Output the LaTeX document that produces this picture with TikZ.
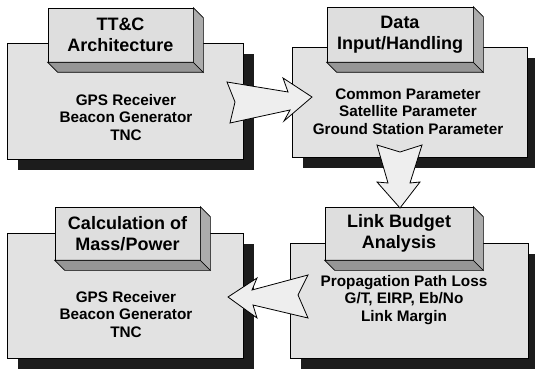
\documentclass[tikz,border=0pt]{standalone}
\usepackage{fontspec}
\setmainfont{Liberation Sans}
\usetikzlibrary{calc,shadows}
\definecolor{panelgray}{RGB}{226,226,226}
\definecolor{frontgray}{RGB}{222,222,222}
\definecolor{bottomgray}{RGB}{150,150,150}
\definecolor{sidegray}{RGB}{172,172,172}
\definecolor{shadowgray}{RGB}{28,28,28}
\definecolor{arrowfill}{RGB}{238,238,238}
\tikzset{
  panel/.style={draw=black, line width=0.6pt, fill=panelgray, inner sep=0pt,
    drop shadow={shadow xshift=11pt, shadow yshift=-11pt, opacity=1, fill=shadowgray}},
  titlefront/.style={draw=black, line width=0.6pt, fill=frontgray, inner sep=0pt,
    align=center, font=\fontsize{18}{21}\selectfont\bfseries},
  depthbottom/.style={draw=black, line width=0.6pt, fill=bottomgray},
  depthside/.style={draw=black, line width=0.6pt, fill=sidegray},
  bodytext/.style={align=center, inner sep=0pt, font=\fontsize{15.3}{17.5}\selectfont\bfseries},
  blockarrow/.style={draw=black, line width=0.8pt, fill=arrowfill, line join=miter}
}
% raised title plate: front face plus bottom and right depth faces
\newcommand\titleplate[4]{%
  \node[titlefront, minimum width=#2, minimum height=#3] (#1) at (#4) {};
  \filldraw[depthbottom] (#1.south west) -- (#1.south east) -- ($(#1.south east)+(10,10)$)
    -- ($(#1.south west)+(10,10)$) -- cycle;
  \filldraw[depthside] (#1.north east) -- ($(#1.north east)+(10,10)$)
    -- ($(#1.south east)+(10,10)$) -- (#1.south east) -- cycle;
}
\begin{document}
\begin{tikzpicture}[x=1pt, y=-1pt]
\useasboundingbox[fill=white] (0,0) rectangle (535,371);

% main panels
\node[panel, minimum width=236pt, minimum height=116pt] (b1) at (125,101) {};
\node[panel, minimum width=235pt, minimum height=110pt] (b2) at (409.5,102) {};
\node[panel, minimum width=236pt, minimum height=125pt] (b3) at (125,295.5) {};
\node[panel, minimum width=238pt, minimum height=115pt] (b4) at (409,300.5) {};

% title plates
\titleplate{t1}{145pt}{54pt}{120.5,35}
\titleplate{t2}{146pt}{55pt}{400,34.5}
\titleplate{t3}{145pt}{53pt}{127.5,233.5}
\titleplate{t4}{148pt}{53pt}{399,233.5}
\node[titlefront, draw=none, fill=none] (t1l) at (t1) {TT\&C\\Architecture};
\node[titlefront, draw=none, fill=none] (t2l) at (t2) {Data\\Input/Handling};
\node[titlefront, draw=none, fill=none] (t3l) at (t3) {Calculation of\\Mass/Power};
\node[titlefront, draw=none, fill=none] (t4l) at (t4) {Link Budget\\Analysis};

% panel contents
\node[bodytext] (c1) at (126,117.5) {GPS Receiver\\Beacon Generator\\TNC};
\node[bodytext] (c2) at (408,111.5) {Common Parameter\\Satellite Parameter\\Ground Station Parameter};
\node[bodytext] (c3) at (126,314.5) {GPS Receiver\\Beacon Generator\\TNC};
\node[bodytext] (c4) at (404,300) {Propagation Path Loss\\G/T, EIRP, Eb/No\\Link Margin};

% block arrows between the panels
\filldraw[blockarrow] (227,82) -- (288,92) -- (283,78) -- (312,97) -- (284,121)
  -- (290,110) -- (230,123) -- (235,102) -- cycle;
\filldraw[blockarrow] (377,145) -- (400,152) -- (422,145) -- (410,183) -- (420,182)
  -- (400,208) -- (377,182) -- (388,183) -- cycle;
\filldraw[blockarrow] (228,297) -- (257,278) -- (252,290) -- (308,275) -- (298,295)
  -- (308,318) -- (253,305) -- (257,318) -- cycle;
\end{tikzpicture}
\end{document}
